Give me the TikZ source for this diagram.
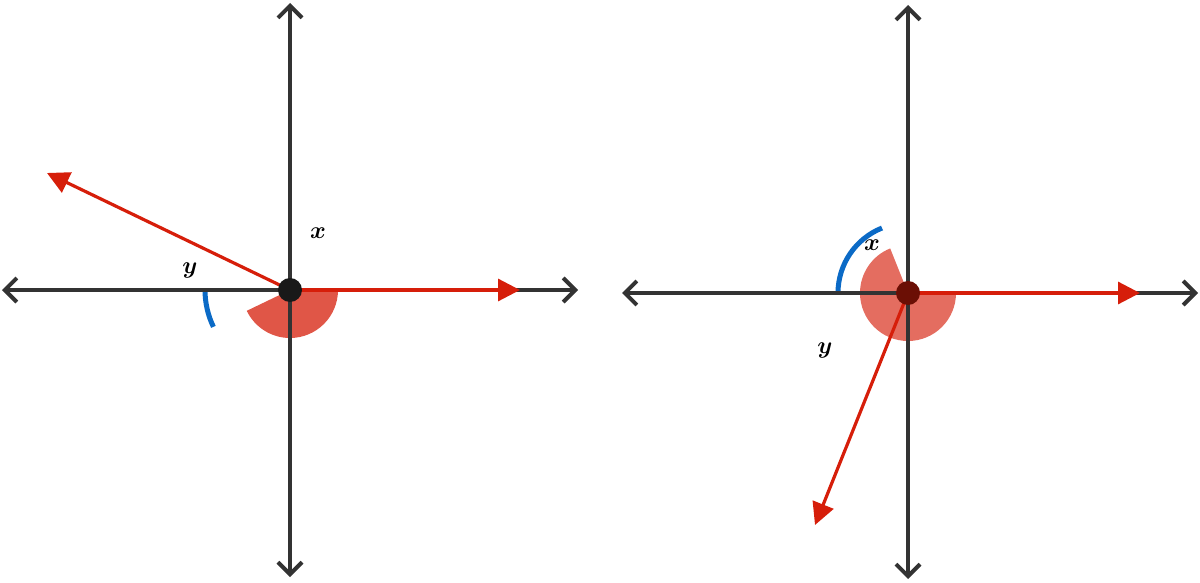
\documentclass[tikz,border=0pt]{standalone}
\usepackage{bm}
\usetikzlibrary{arrows.meta,calc}
\definecolor{axisgray}{HTML}{333333}
\definecolor{rayred}{HTML}{D61E0A}
\definecolor{arcblue}{HTML}{0B6AC6}
\tikzset{
  axis/.style={axisgray,line width=2pt,line cap=round,{Straight Barb[length=6pt,width=12pt]}-{Straight Barb[length=6pt,width=12pt]}},
  ray/.style={rayred,line width=1.6pt,-{Triangle[length=11pt,width=11pt]}},
  anglab/.style={font=\large}
}
\begin{document}
\begin{tikzpicture}[x=0.5pt,y=-0.5pt]
\useasboundingbox (0,0) rectangle (1200,583);
% left picture
\coordinate (O1) at (290,290);
\fill[rayred!75!white] (O1) -- ++(0:48) arc[start angle=0,end angle=154.3,radius=48] -- cycle;
\draw[arcblue,line width=2.5pt] ($(O1)+(154.3:85)$) arc[start angle=154.3,end angle=180,radius=85];
\draw[axis] (2,290) -- (578,290);
\draw[axis] (290,3) -- (290,577);
\draw[ray] (O1) -- (47,173);
\draw[ray] (O1) -- (520,290);
\fill[black!90] (O1) circle (6pt);
\node[anglab] (x1) at (318,233) {$\bm{x}$};
\node[anglab] (y1) at (190,270) {$\bm{y}$};
% right picture
\coordinate (O2) at (908,293);
\fill[rayred!65!white] (O2) -- ++(0:48) arc[start angle=0,end angle=248.2,radius=48] -- cycle;
\draw[arcblue,line width=2.5pt] ($(O2)+(180:70)$) arc[start angle=180,end angle=248.2,radius=70];
\draw[axis] (622,293) -- (1198,293);
\draw[axis] (908,5) -- (908,579);
\draw[ray] (O2) -- (815,525);
\draw[ray] (O2) -- (1140,293);
\fill[rayred!50!black] (O2) circle (6pt);
\node[anglab] (x2) at (872,245) {$\bm{x}$};
\node[anglab] (y2) at (825,350) {$\bm{y}$};
\end{tikzpicture}
\end{document}
